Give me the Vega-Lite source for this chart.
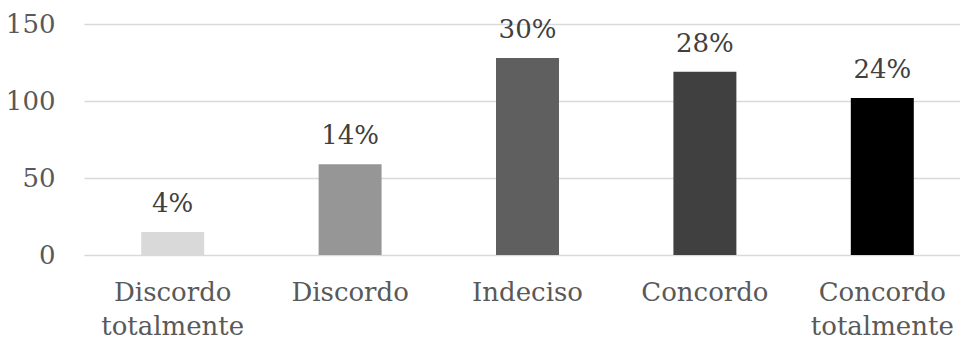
{
  "$schema": "https://vega.github.io/schema/vega-lite/v6.json",
  "width": 887,
  "height": 231,
  "autosize": {"type": "none"},
  "padding": {"left": 84, "top": 24, "right": 0, "bottom": 90},
  "background": "white",
  "config": {
    "view": {"stroke": null},
    "font": "DejaVu Serif"
  },
  "data": {
    "values": [
      {"resposta": "Discordo totalmente", "n": 15, "pct": "4%", "cor": "#d9d9d9"},
      {"resposta": "Discordo", "n": 59, "pct": "14%", "cor": "#969696"},
      {"resposta": "Indeciso", "n": 128, "pct": "30%", "cor": "#5f5f5f"},
      {"resposta": "Concordo", "n": 119, "pct": "28%", "cor": "#404040"},
      {"resposta": "Concordo totalmente", "n": 102, "pct": "24%", "cor": "#000000"}
    ]
  },
  "encoding": {
    "x": {
      "field": "resposta",
      "type": "nominal",
      "sort": null,
      "scale": {"paddingInner": 0.645, "paddingOuter": 0.3225},
      "axis": {
        "title": null,
        "domain": false,
        "ticks": false,
        "labelAngle": 0,
        "labelFont": "DejaVu Serif",
        "labelFontSize": 26,
        "labelColor": "#595959",
        "labelPadding": 24,
        "labelLineHeight": 34,
        "labelExpr": "split(datum.label, ' ')"
      }
    },
    "y": {
      "field": "n",
      "type": "quantitative",
      "scale": {"domain": [0, 150]},
      "axis": {
        "title": null,
        "domain": false,
        "ticks": false,
        "values": [0, 50, 100, 150],
        "grid": true,
        "gridColor": "#d9d9d9",
        "gridWidth": 1.5,
        "labelFont": "DejaVu Serif",
        "labelFontSize": 26,
        "labelColor": "#595959",
        "labelPadding": 29
      }
    }
  },
  "layer": [
    {
      "mark": {"type": "bar"},
      "encoding": {
        "color": {"field": "cor", "type": "nominal", "scale": null, "legend": null}
      }
    },
    {
      "mark": {
        "type": "text",
        "baseline": "alphabetic",
        "dy": -20,
        "fontSize": 26,
        "font": "DejaVu Serif",
        "color": "#404040"
      },
      "encoding": {
        "text": {"field": "pct", "type": "nominal"}
      }
    }
  ]
}
